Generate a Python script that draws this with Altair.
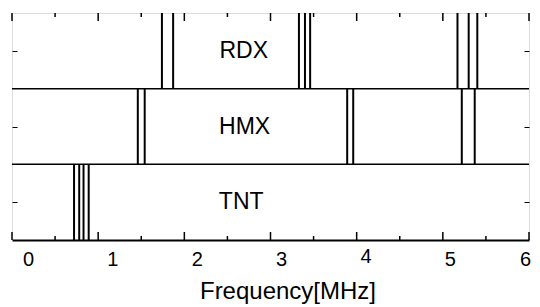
import altair as alt
import pandas as pd

# ---- data ----
samples = ["RDX", "HMX", "TNT"]
rdx_freq = [1.74, 1.87, 3.33, 3.40, 3.46, 5.17, 5.30, 5.40]
hmx_freq = [1.46, 1.54, 3.89, 3.96, 5.22, 5.37]
tnt_freq = [0.72, 0.78, 0.83, 0.89]
label_freq = [2.69, 2.70, 2.66]
major_ticks = [0, 1, 2, 3, 4, 5, 6]
minor_ticks = [0.5, 1.5, 2.5, 3.5, 4.5, 5.5]

W, H = 517, 227
FONT = "Liberation Sans"
n = len(samples)

rows = []
for s, fl in zip(samples, [rdx_freq, hmx_freq, tnt_freq]):
    idx = n - 1 - samples.index(s)
    for f in fl:
        rows.append({"sample": s, "freq": f, "lo": idx, "hi": idx + 1})
lines_df = pd.DataFrame(rows)

lab_df = pd.DataFrame({
    "sample": samples,
    "freq": label_freq,
    "mid": [n - 1 - i + 0.5 for i in range(n)],
})
sep_df = pd.DataFrame({"b": list(range(1, n))})
mid_vals = [i + 0.5 for i in range(n)]

# inward frame ticks (tick length given in px, converted to y units)
px = n / H
tick_rows = []
for edge, sign in [(0, 1), (n, -1)]:
    for v in major_ticks:
        tick_rows.append({"v": v, "y0": edge, "y1": edge + sign * 8 * px})
    for v in minor_ticks:
        tick_rows.append({"v": v, "y0": edge, "y1": edge + sign * 4 * px})
tick_df = pd.DataFrame(tick_rows)

xscale = alt.Scale(domain=[0, 6], nice=False, zero=False)
yscale = alt.Scale(domain=[0, n], nice=False, zero=False)

lines = alt.Chart(lines_df).mark_rule(color="black", strokeWidth=2).encode(
    x=alt.X("freq:Q", scale=xscale, axis=alt.Axis(
        orient="bottom", values=major_ticks, ticks=False, grid=False,
        domain=True, domainColor="black", domainWidth=2,
        labelFont=FONT, labelFontSize=20, labelColor="black",
        labelPadding={"expr": "datum.value == 4 ? 6 : 9"},
        labelOffset={"expr": "datum.value == 6 ? -4 : 16 - 1.8*datum.value"},
        labelFlush=False, format="d",
        title="Frequency[MHz]", titleFont=FONT, titleFontSize=24,
        titleFontWeight="normal", titleColor="black", titlePadding=10,
        titleX=W / 2 + 17)),
    y=alt.Y("lo:Q", scale=yscale, axis=alt.Axis(
        orient="right", offset=-W, values=mid_vals, labels=False, domain=False,
        grid=False, title=None, tickSize=5, tickColor="black", tickWidth=1)),
    y2="hi",
)

seps = alt.Chart(sep_df).mark_rule(color="black", strokeWidth=1.5).encode(
    y=alt.Y("b:Q", scale=yscale, axis=alt.Axis(
        orient="left", offset=-W, values=mid_vals, labels=False, domain=False,
        grid=False, title=None, tickSize=5, tickColor="black", tickWidth=1)),
)

labels = alt.Chart(lab_df).mark_text(font=FONT, fontSize=23, color="black").encode(
    x=alt.X("freq:Q", scale=xscale, axis=None),
    y=alt.Y("mid:Q", scale=yscale, axis=None),
    text="sample:N",
)

frame_ticks = alt.Chart(tick_df).mark_rule(color="black", strokeWidth=1.5).encode(
    x=alt.X("v:Q", scale=xscale, axis=None),
    y=alt.Y("y0:Q", scale=yscale, axis=None),
    y2="y1",
)

chart = alt.layer(
    lines, seps, labels, frame_ticks,
).resolve_scale(x="shared", y="shared").resolve_axis(
    x="independent", y="independent"
).properties(
    width=W, height=H, autosize="none",
    padding={"left": 4, "top": 5, "right": 3, "bottom": 67},
).configure_view(stroke="black", strokeWidth=1.5).configure(background="white")

chart.save("out.html", embed_options={"renderer": "svg", "actions": False})
